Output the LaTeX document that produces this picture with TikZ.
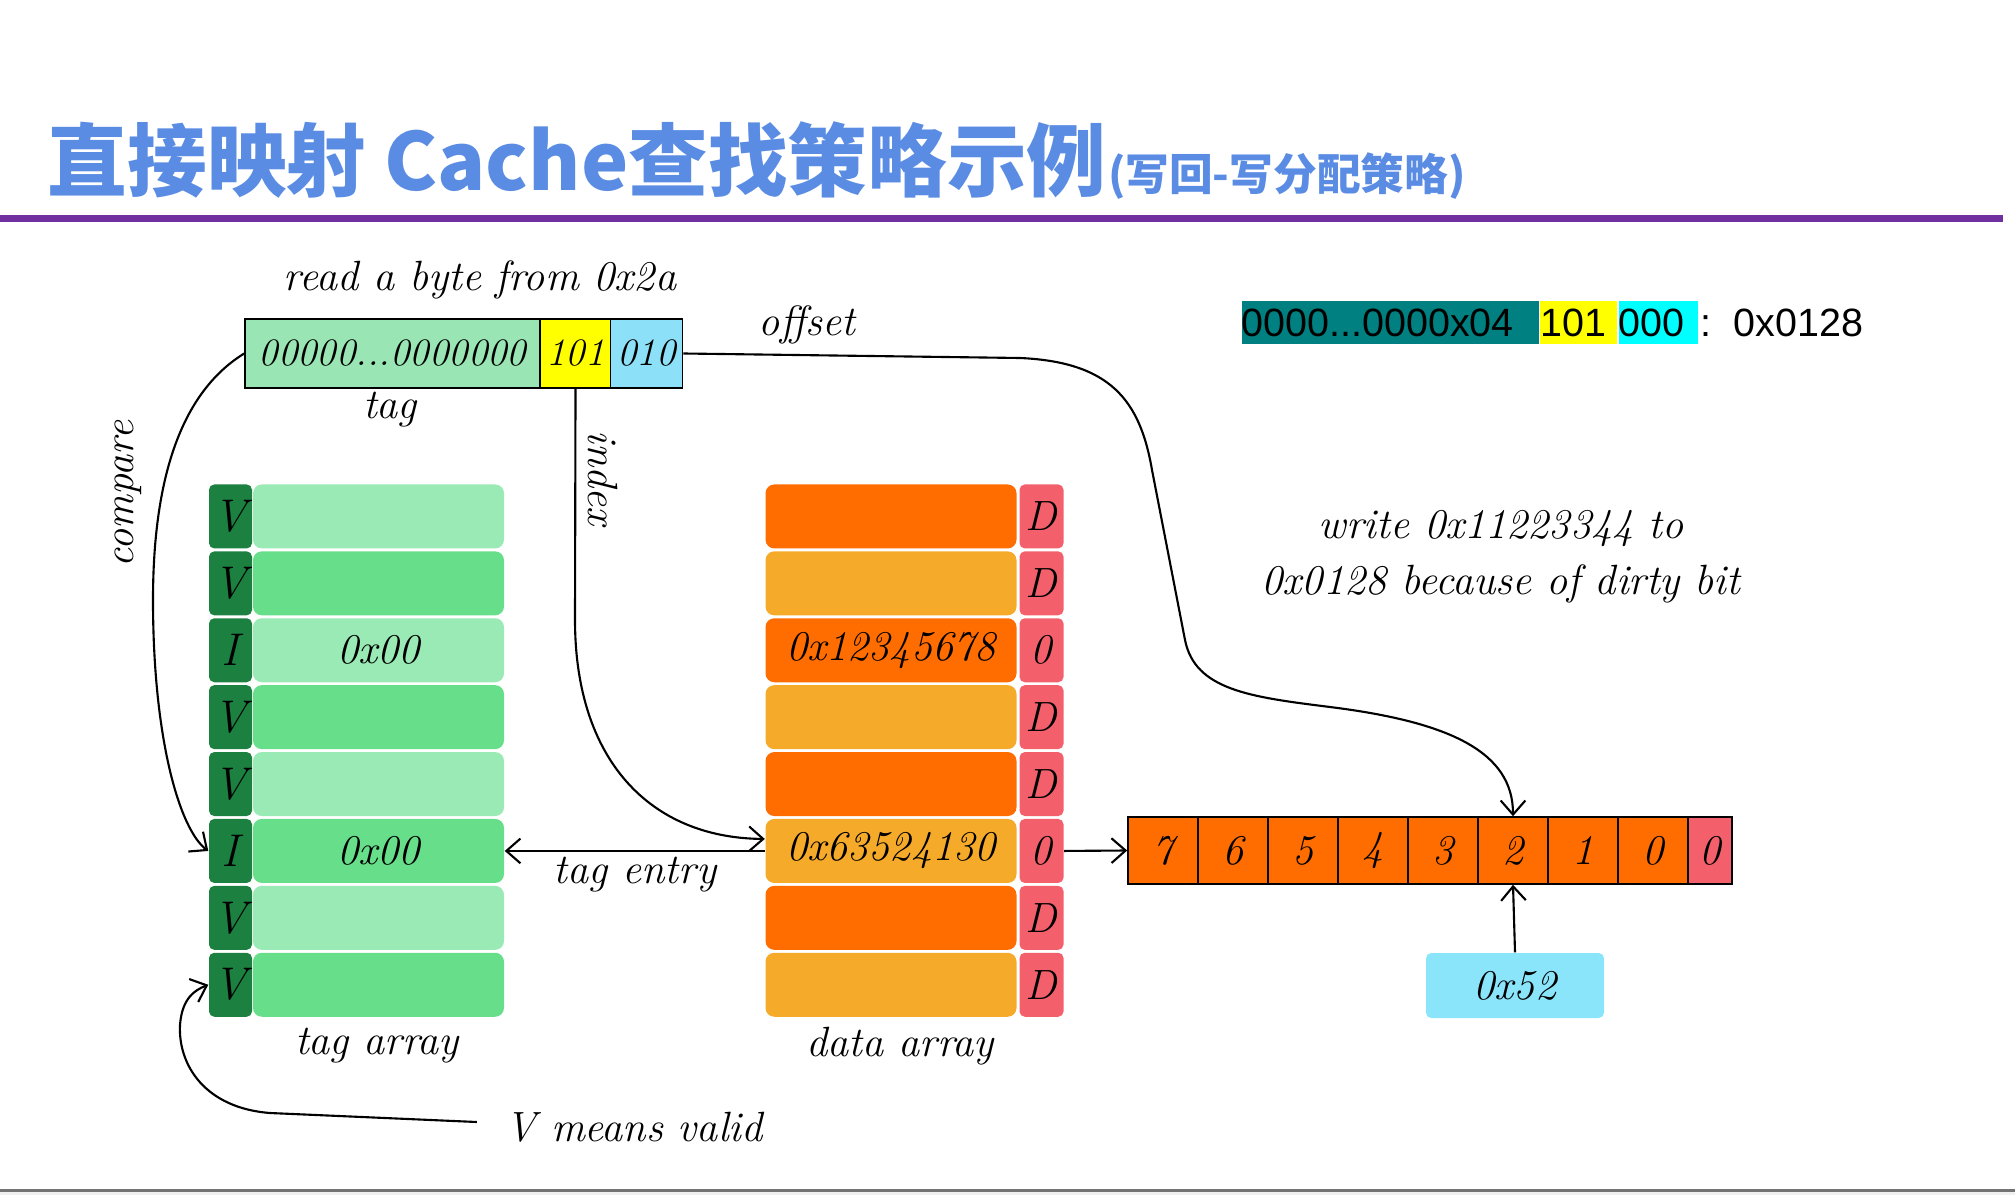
\documentclass[tikz,border=0pt]{standalone}
\usepackage{fontspec}
\usetikzlibrary{arrows.meta,calc}
\newfontfamily\cjk{Noto Sans CJK SC}
\newfontfamily\arialf{Liberation Sans}
\def\pxu{0.2837pt}
\definecolor{titleblue}{RGB}{90,140,228}
\definecolor{purplebar}{RGB}{112,48,160}
\definecolor{tgl}{RGB}{153,234,180}
\definecolor{tgm}{RGB}{102,222,138}
\definecolor{vdark}{RGB}{28,128,64}
\definecolor{ordark}{RGB}{255,108,0}
\definecolor{orlight}{RGB}{245,170,42}
\definecolor{dpink}{RGB}{243,96,107}
\definecolor{addrgreen}{RGB}{153,230,180}
\definecolor{addryellow}{RGB}{255,255,0}
\definecolor{addrblue}{RGB}{140,224,247}
\definecolor{valblue}{RGB}{138,228,250}
\definecolor{legteal}{RGB}{0,128,128}
\definecolor{legcyan}{RGB}{0,255,255}
\begin{document}
\begin{tikzpicture}[x=0.2837pt,y=-0.2837pt,
  hand/.style={font=\fontsize{12}{16}\selectfont\itshape, inner sep=0},
  vcell/.style={fill=vdark, inner sep=0, minimum width=43*\pxu, minimum height=64*\pxu, rounded corners=1.5pt, font=\fontsize{13}{15}\selectfont\itshape},
  tcell/.style={inner sep=0, minimum width=251*\pxu, minimum height=64*\pxu, rounded corners=2.5pt, font=\fontsize{12}{14}\selectfont\itshape},
  dcell/.style={inner sep=0, minimum width=251*\pxu, minimum height=64*\pxu, rounded corners=2.5pt, font=\fontsize{12}{14}\selectfont\itshape},
  dbit/.style={fill=dpink, inner sep=0, minimum width=44*\pxu, minimum height=64*\pxu, rounded corners=1.5pt, font=\fontsize{12}{14}\selectfont\itshape},
  bytecell/.style={draw=black, line width=0.45pt, fill=ordark, inner sep=0, minimum width=70*\pxu, minimum height=67*\pxu, font=\fontsize{12}{14}\selectfont\itshape},
  addrbox/.style={draw=black, line width=0.45pt, inner sep=0, minimum height=69*\pxu, font=\fontsize{11}{14}\selectfont\itshape},
  leg/.style={inner sep=0, minimum height=43*\pxu, anchor=west, align=left, font=\arialf\fontsize{11.2}{13}\selectfont},
  arr/.style={-{Straight Barb[length=4pt,width=7pt]}, line width=0.6pt}]
\useasboundingbox (0,0) rectangle (2015,1195);
% title
\node[anchor=base west, inner sep=0, text=titleblue, font=\cjk\bfseries\fontsize{22.6}{26}\selectfont] (title) at (47,191) {直接映射 Cache查找策略示例};
\node[anchor=base west, inner sep=0, text=titleblue, font=\cjk\bfseries\fontsize{12.4}{15}\selectfont] (subtitle) at (title.base east) {(写回-写分配策略)};
\fill[purplebar] (0,215) rectangle (2003,222);
\fill[black!6] (0,1191) rectangle (2015,1195);
\draw[black!55, line width=0.6pt] (0,1190.5) -- (2015,1190.5);
% legend
\node[leg, fill=legteal, text width=297*\pxu] (lg1) at (1241,322.5) {0000...0000x04};
\node[leg, fill=addryellow, text width=77*\pxu] (lg2) at (lg1.east) {101};
\node[leg, fill=legcyan, text width=79*\pxu] (lg3) at (lg2.east) {000};
\node[leg, anchor=west] (lg4) at (1700,322.5) {:\ \ 0x0128};
% address
\node[hand] (rd) at (480,280) {read a byte from 0x2a};
\node[addrbox, fill=addrgreen, minimum width=295*\pxu] (atag) at (392.5,353.5) {00000...0000000};
\node[addrbox, fill=addryellow, minimum width=71*\pxu] (aidx) at (575.5,353.5) {101};
\node[addrbox, fill=addrblue, minimum width=72*\pxu] (aoff) at (646.5,353.5) {010};
\node[hand] (tagl) at (390,410) {tag};
\node[hand] (offl) at (807,325) {offset};
% tag array
\foreach \k/\v/\t in {1/V/,2/V/,3/I/0x00,4/V/,5/V/,6/I/0x00,7/V/,8/V/} {
  \pgfmathsetmacro\yc{483+(\k-0.5)*66.9}
  \ifodd\k \def\tc{tgl}\else\def\tc{tgm}\fi
  \node[vcell] (tv\k) at (230.5,\yc) {\v};
  \node[tcell, fill=\tc] (td\k) at (378.5,\yc) {\t};
}
\node[hand] (tarr) at (377,1046) {tag array};
% data array
\foreach \k/\d/\t in {1/D/,2/D/,3/0/0x12345678,4/D/,5/D/,6/0/0x63524130,7/D/,8/D/} {
  \pgfmathsetmacro\yc{483+(\k-0.5)*66.9}
  \ifodd\k \def\dc{ordark}\else\def\dc{orlight}\fi
  \node[dcell, fill=\dc] (dd\k) at (891,\yc) {\t};
  \node[dbit] (dD\k) at (1041.5,\yc) {\d};
}
\node[hand] (darr) at (900,1046) {data array};
% byte row
\foreach \i/\t in {0/7,1/6,2/5,3/4,4/3,5/2,6/1,7/0}
  \node[bytecell] (c\i) at ({1163+70*\i},850.5) {\t};
\node[bytecell, fill=dpink, minimum width=44*\pxu] (cp) at (1710,850.5) {0};
\node[inner sep=0, fill=valblue, minimum width=178*\pxu, minimum height=65*\pxu, rounded corners=1.5pt, font=\fontsize{12}{14}\selectfont\itshape] (val) at (1515,985.5) {0x52};
% texts
\node[hand, rotate=90] (cmp) at (128,494) {compare};
\node[hand, rotate=-90] (idxl) at (603,478) {index};
\node[hand] (te) at (635,875) {tag entry};
\node[hand] (vm) at (634,1127) {V means valid};
\node[hand, align=center] (wr) at (1501,557) {write 0x11223344 to\\0x0128 because of dirty bit};
% connectors
\draw[arr] (atag.west) .. controls (185,390) and (153,470) .. (153,600) .. controls (153,740) and (180,830) .. (tv6.west);
\draw[arr] (aidx.south) -- (575,620) .. controls (575,760) and (650,838) .. ($(dd6.west)+(0,-12)$);
\draw[arr] (dd6.west) -- (td6.east);
\draw[arr] (aoff.east) -- (1020,358) .. controls (1110,362) and (1140,400) .. (1152,470) -- (1185,640) .. controls (1195,690) and (1250,697) .. (1330,707) .. controls (1450,722) and (1513,752) .. (c5.north);
\draw[arr] (dD6.east) -- (c0.west);
\draw[arr] (val.north) -- (c5.south);
\draw[arr] ($(vm.west)+(-28,-5)$) -- (270,1113) .. controls (205,1108) and (178,1065) .. (180,1025) .. controls (182,998) and (195,990) .. (tv8.west);
\end{tikzpicture}
\end{document}
